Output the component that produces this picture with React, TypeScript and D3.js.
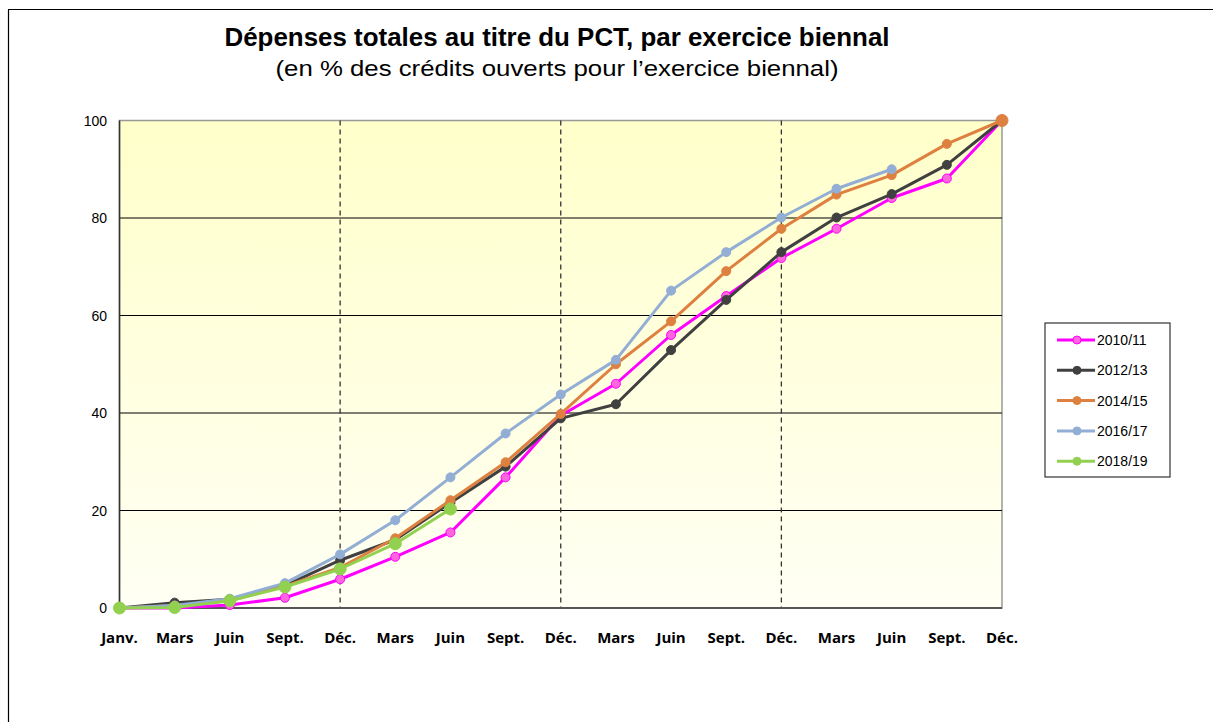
import React from "react";
import * as d3 from "d3";

const months = ["Janv.", "Mars", "Juin", "Sept.", "Déc.", "Mars", "Juin", "Sept.", "Déc.", "Mars", "Juin", "Sept.", "Déc.", "Mars", "Juin", "Sept.", "Déc."];
const seriesNames = ["2010/11", "2012/13", "2014/15", "2016/17", "2018/19"];
const seriesColors = ["#FF00FF", "#404040", "#DE8040", "#93AED4", "#92D050"];
const markerFills = ["#FF66DD", "#404040", "#DE8040", "#93AED4", "#92D050"];
const s2010: number[] = [0, 0, 0.6, 2.1, 5.9, 10.5, 15.5, 26.8, 39.5, 46.0, 56.0, 64.0, 71.8, 77.8, 84.1, 88.1, 100];
const s2012: number[] = [0, 1.1, 1.8, 4.6, 9.8, 14.0, 21.6, 29.0, 38.9, 41.8, 52.9, 63.2, 73.0, 80.1, 84.9, 90.9, 100];
const s2014: number[] = [0, 0.5, 1.5, 4.5, 8.3, 14.3, 22.1, 29.9, 39.8, 50.0, 58.8, 69.1, 77.8, 84.8, 88.8, 95.2, 100];
const s2016: number[] = [0, 0.5, 1.9, 5.1, 11.0, 18.0, 26.8, 35.8, 43.8, 50.9, 65.1, 73.0, 80.1, 86.0, 90.0];
const s2018: number[] = [0, 0.1, 1.5, 4.3, 8.0, 13.2, 20.3];
const allSeries = [s2010, s2012, s2014, s2016, s2018];
const yTicks = [0, 20, 40, 60, 80, 100];
const decIdx = [4, 8, 12];

export default function App() {
  const W = 1213, H = 722;
  const left = 119.5, right = 1002, top = 120.5, bottom = 608;
  const x = d3.scaleLinear().domain([0, months.length - 1]).range([left, right]);
  const y = d3.scaleLinear().domain([0, 100]).range([bottom, top]);
  const line = d3.line<number>().x((_, i) => x(i)).y((d) => y(d));
  const legendX = 1045, legendY = 323;
  return (
    <svg width={W} height={H} style={{ position: "absolute", left: 0, top: 0, background: "#fff" }}>
      <defs>
        <linearGradient id="bg" x1="0" y1="0" x2="0" y2="1">
          <stop offset="0%" stopColor="#FFFFCA" />
          <stop offset="100%" stopColor="#FFFFF4" />
        </linearGradient>
      </defs>
      <rect x={0} y={0} width={W} height={H} fill="#fff" />
      <line x1={8.5} y1={10} x2={8.5} y2={H} stroke="#000" strokeWidth={1.2} />
      <line x1={8} y1={9.5} x2={W} y2={9.5} stroke="#000" strokeWidth={1.2} />
      <text x={557} y={46} textAnchor="middle" fontFamily="Liberation Sans Narrow, Liberation Sans, Arial" fontWeight="bold" fontSize={26} textLength={665} lengthAdjust="spacingAndGlyphs">
        Dépenses totales au titre du PCT, par exercice biennal
      </text>
      <text x={557} y={76} textAnchor="middle" fontFamily="Liberation Sans Narrow, Liberation Sans, Arial" fontSize={22} textLength={563} lengthAdjust="spacingAndGlyphs">
        (en % des crédits ouverts pour l’exercice biennal)
      </text>
      <rect x={left} y={top} width={right - left} height={bottom - top} fill="url(#bg)" stroke="#999" strokeWidth={1.5} />
      {yTicks.filter((t) => t > 0 && t < 100).map((t) => (
        <line key={t} x1={left} x2={right} y1={y(t)} y2={y(t)} stroke="#000" strokeWidth={1.2} />
      ))}
      {decIdx.map((i) => (
        <line key={i} x1={x(i)} x2={x(i)} y1={top} y2={bottom} stroke="#333" strokeWidth={1.3} strokeDasharray="5,4" />
      ))}
      <line x1={left} x2={left} y1={top} y2={bottom} stroke="#333" strokeWidth={1.5} />
      <line x1={left} x2={right} y1={bottom} y2={bottom} stroke="#555" strokeWidth={2} />
      {yTicks.map((t) => (
        <text key={t} x={107} y={y(t) + 5} textAnchor="end" fontFamily="Liberation Sans, Arial" fontSize={14} fill="#000">
          {t}
        </text>
      ))}
      {months.map((m, i) => (
        <text key={i} x={x(i)} y={643} textAnchor="middle" fontFamily="Open Sans" fontWeight="bold" fontSize={15} fill="#000">
          {m}
        </text>
      ))}
      {allSeries.map((s, k) => (
        <g key={k}>
          <path d={line(s) || ""} fill="none" stroke={seriesColors[k]} strokeWidth={3} strokeLinejoin="round" />
          {s.map((v, i) => (
            <circle key={i} cx={x(i)} cy={y(v)} r={k === 4 ? 6 : 4.5} fill={markerFills[k]} stroke={seriesColors[k]} strokeWidth={1} />
          ))}
        </g>
      ))}
      <circle cx={x(16)} cy={y(100)} r={6} fill={markerFills[2]} stroke={seriesColors[2]} />
      <rect x={legendX} y={legendY} width={125} height={154} fill="#fff" stroke="#333" strokeWidth={1.2} />
      {seriesNames.map((n, k) => {
        const ly = 340 + k * 30.3;
        return (
          <g key={n}>
            <line x1={1057} x2={1095} y1={ly} y2={ly} stroke={seriesColors[k]} strokeWidth={3} />
            <circle cx={1077} cy={ly} r={4} fill={markerFills[k]} stroke={seriesColors[k]} />
            <text x={1097} y={ly + 5} fontFamily="Liberation Sans, Arial" fontSize={14} fill="#000">
              {n}
            </text>
          </g>
        );
      })}
    </svg>
  );
}
